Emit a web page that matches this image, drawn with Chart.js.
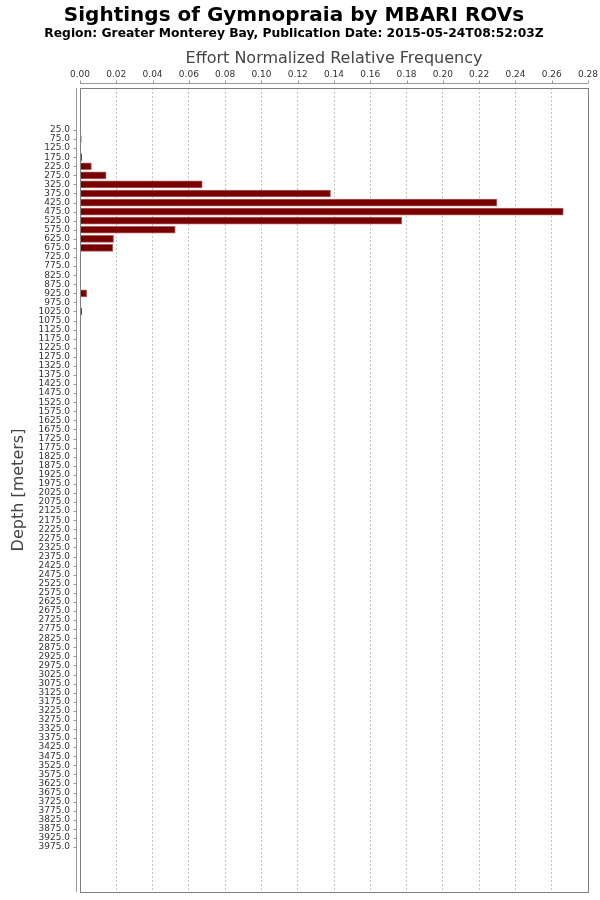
<!DOCTYPE html>
<html>
<head>
<meta charset="utf-8">
<script src="https://cdn.jsdelivr.net/npm/chart.js@4.4.1/dist/chart.umd.min.js"></script>
<style>
  body { margin: 0; background: #fff; }
  #wrap { width: 600px; height: 900px; position: relative; }
</style>
</head>
<body>
<div id="wrap"><canvas id="chart"></canvas></div>
<script>
// depth bins (meters) and relative frequency per bin
const depths = [
  25, 75, 125, 175, 225, 275, 325, 375, 425, 475,
  525, 575, 625, 675, 725, 775, 825, 875, 925, 975,
  1025, 1075, 1125, 1175, 1225, 1275, 1325, 1375, 1425, 1475,
  1525, 1575, 1625, 1675, 1725, 1775, 1825, 1875, 1925, 1975,
  2025, 2075, 2125, 2175, 2225, 2275, 2325, 2375, 2425, 2475,
  2525, 2575, 2625, 2675, 2725, 2775, 2825, 2875, 2925, 2975,
  3025, 3075, 3125, 3175, 3225, 3275, 3325, 3375, 3425, 3475,
  3525, 3575, 3625, 3675, 3725, 3775, 3825, 3875, 3925, 3975
];
const frequency = [
  0, 0.0007, 0, 0.001, 0.0063, 0.0144, 0.0674, 0.1381, 0.2298, 0.2664,
  0.1774, 0.0525, 0.0185, 0.0181, 0, 0, 0, 0, 0.0037, 0,
  0.001, 0, 0, 0, 0, 0, 0, 0, 0, 0,
  0, 0, 0, 0, 0, 0, 0, 0, 0, 0,
  0, 0, 0, 0, 0, 0, 0, 0, 0, 0,
  0, 0, 0, 0, 0, 0, 0, 0, 0, 0,
  0, 0, 0, 0, 0, 0, 0, 0, 0, 0,
  0, 0, 0, 0, 0, 0, 0, 0, 0, 0
];
const freqTicks = [0, 0.02, 0.04, 0.06, 0.08, 0.10, 0.12, 0.14, 0.16, 0.18, 0.20, 0.22, 0.24, 0.26, 0.28];

Chart.defaults.font.family = 'DejaVu Sans';
Chart.defaults.color = '#333';

// plot frame plus the offset axis lines and tick marks
const frame = {
  id: 'frame',
  afterDraw(c) {
    const ctx = c.ctx;
    const a = c.chartArea;
    const xs = c.scales.x, ys = c.scales.y;
    ctx.save();
    ctx.lineWidth = 1;
    ctx.strokeStyle = '#808080';
    ctx.strokeRect(Math.round(a.left) + 0.5, Math.round(a.top) + 0.5,
      Math.round(a.right - a.left), Math.round(a.bottom - a.top));

    ctx.strokeStyle = '#999';
    ctx.beginPath();
    const ax = Math.round(a.left) - 3.5;
    ctx.moveTo(ax, a.top); ctx.lineTo(ax, a.bottom);
    ys.ticks.forEach(t => {
      const py = Math.round(ys.getPixelForValue(t.value)) + 0.5;
      ctx.moveTo(ax - 3, py); ctx.lineTo(ax, py);
    });
    const ay = Math.round(a.top) - 4.5;
    ctx.moveTo(a.left, ay); ctx.lineTo(a.right, ay);
    xs.ticks.forEach(t => {
      const px = Math.round(xs.getPixelForValue(t.value)) + 0.5;
      ctx.moveTo(px, ay - 3); ctx.lineTo(px, ay);
    });
    ctx.stroke();
    ctx.restore();
  }
};

new Chart(document.getElementById('chart'), {
  type: 'bar',
  data: {
    datasets: [{
      data: depths.map((d, i) => ({ x: frequency[i], y: d })),
      backgroundColor: '#780000',
      borderColor: 'rgba(160,70,70,0.85)',
      borderWidth: 1,
      barThickness: 7
    }]
  },
  options: {
    indexAxis: 'y',
    responsive: true,
    maintainAspectRatio: false,
    animation: false,
    layout: { padding: { top: 2, right: 12, bottom: 8, left: 0 } },
    plugins: {
      legend: { display: false },
      tooltip: { enabled: false },
      title: {
        display: true,
        text: 'Sightings of Gymnopraia by MBARI ROVs',
        color: '#000',
        font: { size: 20, weight: 'bold' },
        padding: { top: 2, bottom: 0 }
      },
      subtitle: {
        display: true,
        text: 'Region: Greater Monterey Bay, Publication Date: 2015-05-24T08:52:03Z',
        color: '#000',
        font: { size: 12.3, weight: 'bold', lineHeight: 1 },
        padding: { top: 0, bottom: 5 }
      }
    },
    scales: {
      x: {
        type: 'linear',
        position: 'top',
        min: 0,
        max: 0.28,
        afterBuildTicks: s => { s.ticks = freqTicks.map(v => ({ value: v })); },
        afterFit: s => { s.height = 42.7; s.paddingLeft = 0; s.paddingRight = 0; },
        ticks: {
          font: { size: 9 },
          padding: 8,
          maxRotation: 0,
          autoSkip: false,
          callback: v => Number(v).toFixed(2)
        },
        grid: { color: '#c4c4c4', drawTicks: false },
        border: { display: false, dash: [2, 2] },
        title: {
          display: true,
          text: 'Effort Normalized Relative Frequency',
          color: '#444',
          font: { size: 16 },
          padding: { top: 4, bottom: 1 }
        }
      },
      y: {
        type: 'linear',
        reverse: true,
        offset: false,
        min: -206,
        max: 4223,
        afterBuildTicks: s => { s.ticks = depths.map(v => ({ value: v })); },
        afterFit: s => { s.width = 80; s.paddingTop = 0; s.paddingBottom = 0; },
        ticks: {
          font: { size: 9 },
          padding: 10,
          autoSkip: false,
          callback: v => Number(v).toFixed(1)
        },
        grid: { display: false, drawTicks: false },
        border: { display: false },
        title: {
          display: true,
          text: 'Depth [meters]',
          color: '#444',
          font: { size: 16 },
          padding: { top: 9, bottom: 0 }
        }
      }
    }
  },
  plugins: [frame]
});
</script>
</body>
</html>
